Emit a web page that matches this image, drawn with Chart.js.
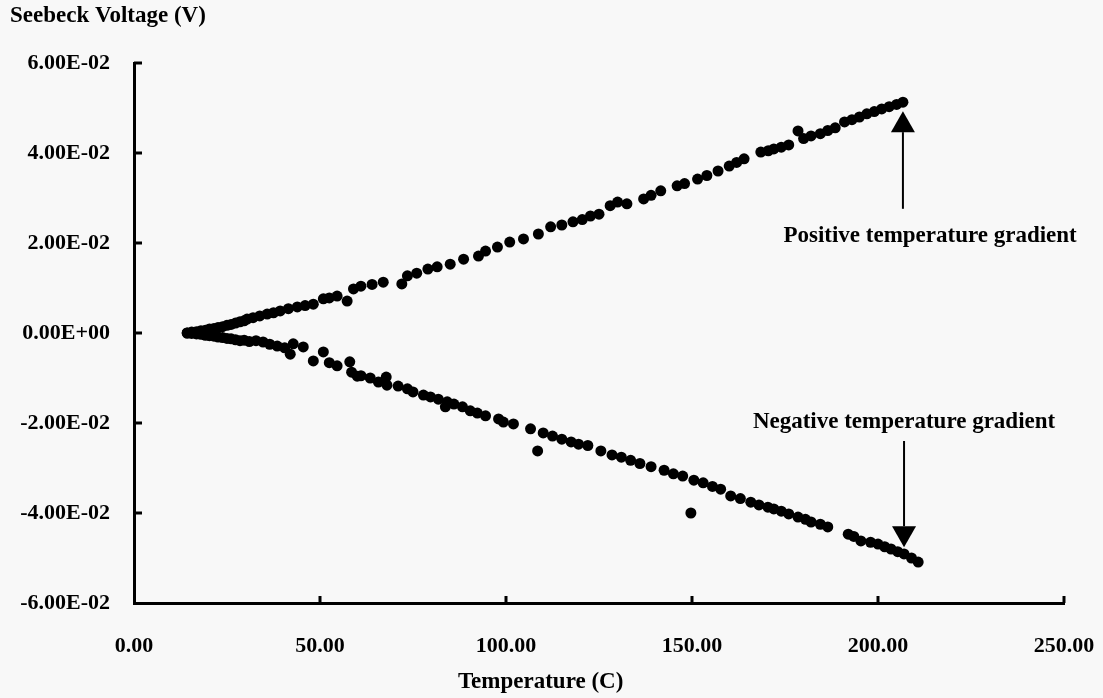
<!DOCTYPE html>
<html>
<head>
<meta charset="utf-8">
<title>Seebeck Voltage</title>
<script src="https://cdn.jsdelivr.net/npm/chart.js@4.4.1/dist/chart.umd.min.js"></script>
<style>
  body { margin: 0; background: #f8f8f8; }
  canvas { display: block; }
</style>
</head>
<body>
<canvas id="grafico" width="1103" height="698"></canvas>
<script>
// ==========================
// DADOS
// ==========================
const posTemp = [
    14.3, 15.5, 16.8, 18.0, 19.2, 20.3, 21.5, 22.6, 23.8, 25.0,
    26.1, 27.3, 28.5, 29.6, 30.4, 32.0, 33.8, 35.8, 37.5, 39.3,
    41.5, 43.9, 46.0, 48.2, 50.9, 52.5, 54.6, 57.3, 59.0, 61.0,
    64.0, 67.0, 72.0, 73.5, 76.0, 79.0, 81.5, 85.0, 88.6, 92.6,
    94.5, 97.7, 101.0, 104.7, 108.7, 112.0, 115.0, 118.0, 120.5, 122.7,
    125.0, 128.0, 130.0, 132.5, 137.0, 139.0, 141.6, 146.0, 148.0, 151.5,
    154.0, 157.0, 160.0, 162.0, 164.0, 168.5, 170.5, 172.0, 174.0, 176.0,
    178.5, 180.0, 182.0, 184.5, 186.5, 188.5, 191.0, 193.0, 195.0, 197.0,
    199.0, 201.0, 203.0, 205.0, 206.7
];
const posVolt = [
    0.0000, 0.0002, 0.0003, 0.0005, 0.0006, 0.0009, 0.0010, 0.0012, 0.0014, 0.0017,
    0.0019, 0.0022, 0.0025, 0.0027, 0.0031, 0.0034, 0.0038, 0.0042, 0.0045, 0.0049,
    0.0054, 0.0058, 0.0061, 0.0064, 0.0076, 0.0078, 0.0082, 0.0071, 0.0098, 0.0104,
    0.0108, 0.0113, 0.0109, 0.0127, 0.0133, 0.0142, 0.0147, 0.0153, 0.0164, 0.0171,
    0.0182, 0.0191, 0.0202, 0.0209, 0.0220, 0.0236, 0.0240, 0.0247, 0.0252, 0.0260,
    0.0264, 0.0283, 0.0291, 0.0287, 0.0298, 0.0306, 0.0316, 0.0327, 0.0332, 0.0342,
    0.0350, 0.0360, 0.0371, 0.0379, 0.0387, 0.0402, 0.0405, 0.0409, 0.0413, 0.0418,
    0.0449, 0.0432, 0.0438, 0.0443, 0.0450, 0.0456, 0.0469, 0.0474, 0.0480, 0.0487,
    0.0492, 0.0498, 0.0503, 0.0508, 0.0513
];

const negTemp = [
    14.3, 15.5, 16.8, 18.0, 19.2, 20.3, 21.5, 22.6, 23.8, 25.0,
    26.1, 27.3, 28.5, 29.6, 31.0, 32.8, 34.7, 36.5, 38.5, 40.5,
    42.0, 42.8, 45.5, 48.2, 50.9, 52.5, 54.6, 58.0, 58.5, 60.0,
    61.0, 63.5, 65.7, 67.8, 68.0, 71.0, 73.5, 75.0, 77.8, 79.7,
    81.8, 83.7, 84.2, 86.0, 88.3, 90.4, 92.3, 94.5, 98.0, 99.3,
    102.0, 106.6, 108.5, 110.0, 112.5, 115.0, 117.5, 119.5, 122.0, 125.5,
    128.5, 131.0, 133.5, 136.0, 139.0, 142.5, 145.0, 147.5, 149.7, 150.5,
    153.0, 155.5, 157.7, 160.4, 163.0, 165.8, 168.0, 170.4, 172.0, 174.0,
    176.0, 178.5, 180.5, 182.0, 184.5, 186.5, 192.0, 193.5, 195.4, 198.0,
    200.0, 201.8, 203.5, 205.3, 207.0, 209.0, 210.8
];
const negVolt = [
    0.0000, -0.0001, -0.0002, -0.0003, -0.0005, -0.0006, -0.0007, -0.0009, -0.0010, -0.0012,
    -0.0013, -0.0015, -0.0017, -0.0016, -0.0019, -0.0017, -0.0020, -0.0025, -0.0029, -0.0033,
    -0.0047, -0.0024, -0.0031, -0.0062, -0.0042, -0.0066, -0.0073, -0.0064, -0.0087, -0.0096,
    -0.0095, -0.0100, -0.0109, -0.0098, -0.0116, -0.0118, -0.0124, -0.0131, -0.0138, -0.0142,
    -0.0147, -0.0164, -0.0153, -0.0158, -0.0164, -0.0173, -0.0178, -0.0184, -0.0191, -0.0198,
    -0.0202, -0.0213, -0.0262, -0.0222, -0.0229, -0.0236, -0.0242, -0.0247, -0.0250, -0.0262,
    -0.0271, -0.0276, -0.0283, -0.0290, -0.0297, -0.0305, -0.0313, -0.0318, -0.0400, -0.0327,
    -0.0333, -0.0341, -0.0347, -0.0362, -0.0368, -0.0376, -0.0382, -0.0387, -0.0391, -0.0396,
    -0.0402, -0.0409, -0.0414, -0.0420, -0.0425, -0.0431, -0.0447, -0.0452, -0.0462, -0.0465,
    -0.0469, -0.0475, -0.0480, -0.0486, -0.0491, -0.0500, -0.0509
];

// eixos
const xTicks = [0, 50, 100, 150, 200, 250];
const yTicks = [-0.06, -0.04, -0.02, 0, 0.02, 0.04, 0.06];

// anotacoes (coordenadas em unidades dos dados)
const setas = [
    { texto: "Positive temperature gradient", x: 206.7, yBase: 0.0276, yPonta: 0.0493, xTexto: 214, yTexto: 0.0216 },
    { texto: "Negative temperature gradient", x: 207.0, yBase: -0.0240, yPonta: -0.0476, xTexto: 207, yTexto: -0.0198 }
];

const FONTE = "'Liberation Serif', 'Times New Roman', serif";

// ==========================
// FORMATO E+XX
// ==========================
function formatoCientifico(v){

    if(Math.abs(v) < 1e-12) return "0.00E+00";

    const partes = v.toExponential(2).split("e");

    const sinal = partes[1][0];

    const exp = partes[1].slice(1).padStart(2, "0");

    return partes[0] + "E" + sinal + exp;
}

function pontos(xs, ys){
    return xs.map((x, i) => ({ x: x, y: ys[i] }));
}

// ==========================
// PLUGIN: ticks internos, titulos e setas
// ==========================
const extras = {

    id: "extras",

    afterDraw(chart){

        const ctx = chart.ctx;
        const xs = chart.scales.x;
        const ys = chart.scales.y;
        const area = chart.chartArea;

        ctx.save();

        // ticks voltados para dentro
        ctx.strokeStyle = "#000";
        ctx.lineWidth = 3;
        ctx.beginPath();
        yTicks.forEach(v => {
            if(v === yTicks[0]) return;
            const py = ys.getPixelForValue(v);
            ctx.moveTo(area.left, py);
            ctx.lineTo(area.left + 8, py);
        });
        xTicks.forEach(v => {
            if(v === xTicks[0]) return;
            const px = xs.getPixelForValue(v);
            ctx.moveTo(px, area.bottom);
            ctx.lineTo(px, area.bottom - 7);
        });
        ctx.stroke();

        // titulos dos eixos
        ctx.fillStyle = "#000";
        ctx.font = "bold 23px " + FONTE;
        ctx.textBaseline = "middle";
        ctx.textAlign = "left";
        ctx.fillText("Seebeck Voltage (V)", 10, 16);

        ctx.textAlign = "center";
        ctx.fillText("Temperature (C)", xs.getPixelForValue(109.3), 682);

        // setas
        ctx.font = "bold 23px " + FONTE;
        setas.forEach(s => {

            const px = xs.getPixelForValue(s.x);
            const pb = ys.getPixelForValue(s.yBase);
            const pt = ys.getPixelForValue(s.yPonta);
            const dir = pt < pb ? 1 : -1;
            const cab = 21;

            ctx.lineWidth = 2;
            ctx.beginPath();
            ctx.moveTo(px, pb);
            ctx.lineTo(px, pt + dir * cab);
            ctx.stroke();

            ctx.beginPath();
            ctx.moveTo(px, pt);
            ctx.lineTo(px - 12, pt + dir * cab);
            ctx.lineTo(px + 12, pt + dir * cab);
            ctx.closePath();
            ctx.fill();

            ctx.fillText(
                s.texto,
                xs.getPixelForValue(s.xTexto),
                ys.getPixelForValue(s.yTexto)
            );
        });

        ctx.restore();
    }
};

// ==========================
// GRAFICO
// ==========================
const ctx = document.getElementById("grafico").getContext("2d");

new Chart(ctx, {

    type: "scatter",

    data: {
        datasets: [
            {
                label: "Positive temperature gradient",
                data: pontos(posTemp, posVolt),
                backgroundColor: "#000",
                borderWidth: 0,
                pointRadius: 5.5
            },
            {
                label: "Negative temperature gradient",
                data: pontos(negTemp, negVolt),
                backgroundColor: "#000",
                borderWidth: 0,
                pointRadius: 5.5
            }
        ]
    },

    options: {

        responsive: false,

        animation: false,

        layout: {
            padding: { left: 0, top: 63, right: 39, bottom: 0 }
        },

        plugins: {
            legend: { display: false },
            tooltip: { enabled: false }
        },

        scales: {

            x: {
                type: "linear",
                min: 0,
                max: 250,
                afterBuildTicks: scale => {
                    scale.ticks = xTicks.map(v => ({ value: v }));
                },
                afterFit: scale => {
                    scale.height = 95;
                    scale.paddingLeft = 0;
                    scale.paddingRight = 0;
                },
                grid: { display: false, drawTicks: false },
                border: { display: true, color: "#000", width: 3 },
                ticks: {
                    padding: 30,
                    color: "#000",
                    font: { family: FONTE, size: 22, weight: "bold" },
                    maxRotation: 0,
                    callback: v => v.toFixed(2)
                }
            },

            y: {
                type: "linear",
                min: -0.06,
                max: 0.06,
                afterBuildTicks: scale => {
                    scale.ticks = yTicks.map(v => ({ value: v }));
                },
                afterFit: scale => {
                    scale.width = 134;
                    scale.paddingTop = 0;
                    scale.paddingBottom = 0;
                },
                grid: { display: false, drawTicks: false },
                border: { display: true, color: "#000", width: 3 },
                ticks: {
                    padding: 24,
                    color: "#000",
                    font: { family: FONTE, size: 22, weight: "bold" },
                    callback: v => formatoCientifico(v)
                }
            }
        }
    },

    plugins: [extras]
});
</script>
</body>
</html>
